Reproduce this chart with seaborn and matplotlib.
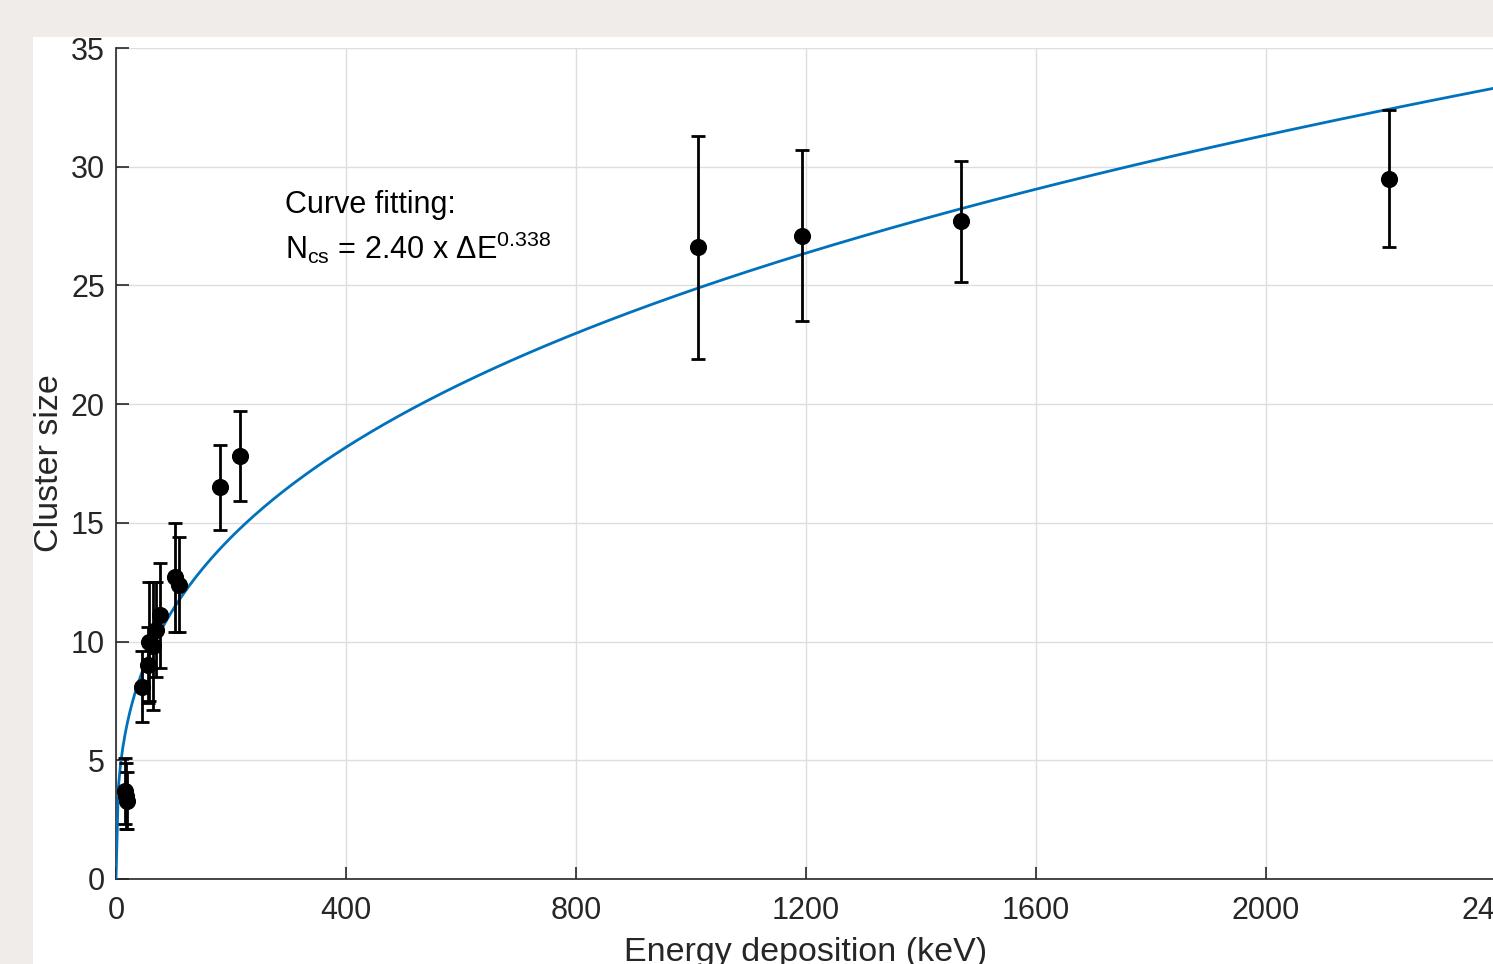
import numpy as np
import pandas as pd
import matplotlib
matplotlib.use("Agg")
import matplotlib.pyplot as plt
import seaborn as sns
from matplotlib.patches import Rectangle

# --- dados ---
energia = [15, 17, 19, 46, 55, 58, 65, 70, 76, 102, 110, 180, 215, 1012, 1193, 1470, 2214]
cluster = [3.7, 3.5, 3.3, 8.1, 9.0, 10.0, 9.8, 10.5, 11.1, 12.7, 12.4, 16.5, 17.8, 26.6, 27.1, 27.7, 29.5]
erro = [1.4, 1.4, 1.2, 1.5, 1.6, 2.5, 2.7, 2.0, 2.2, 2.3, 2.0, 1.8, 1.9, 4.7, 3.6, 2.55, 2.9]

# coeficientes do ajuste N = a * E^b
coef_a = 2.40
coef_b = 0.338

x_ticks = [0, 400, 800, 1200, 1600, 2000, 2400]
y_ticks = [0, 5, 10, 15, 20, 25, 30, 35]

sns.set_theme(style="whitegrid")
plt.rcParams['font.family'] = ['Liberation Sans', 'DejaVu Sans']
plt.rcParams['mathtext.default'] = 'regular'

fig = plt.figure(figsize=(14.93, 9.64), dpi=100, facecolor='#f0ecea')
# área branca do painel (atrás do eixo)
fig.patches.append(Rectangle((33 / 1493, 0), 1, (964 - 37) / 964,
                             transform=fig.transFigure, facecolor='white',
                             edgecolor='none', zorder=-10))
ax = fig.add_axes([116 / 1493, 85 / 964, 1380 / 1493, 831 / 964])
ax.set_facecolor('white')

# curva ajustada
e_fit = np.linspace(0, 2400, 600)
df_fit = pd.DataFrame({'E': e_fit, 'N': coef_a * e_fit ** coef_b})
sns.lineplot(data=df_fit, x='E', y='N', ax=ax, color='#0072BD', linewidth=2.0, zorder=3)

# pontos com barras de erro
df = pd.DataFrame({'E': energia, 'N': cluster, 'err': erro})
ax.errorbar(df['E'], df['N'], yerr=df['err'], fmt='none', ecolor='black',
            elinewidth=2.0, capsize=5, capthick=2.0, zorder=4)
sns.scatterplot(data=df, x='E', y='N', ax=ax, color='black', s=130,
                edgecolor='black', zorder=5)

ax.text(294, 28.05, 'Curve fitting:', fontsize=22, color='black')
ax.text(294, 26.1, r'N$_{cs}$ = 2.40 x $\Delta$E$^{0.338}$', fontsize=22, color='black')

ax.set_xlim(0, 2400)
ax.set_ylim(0, 35)
ax.set_xticks(x_ticks)
ax.set_yticks(y_ticks)
ax.set_xlabel('Energy deposition (keV)', fontsize=24.5, color='#262626', labelpad=8)
ax.set_ylabel('Cluster size', fontsize=24.5, color='#262626', labelpad=4)
ax.grid(True, color='#dedede', linewidth=1.0)
ax.tick_params(axis='both', direction='in', length=9, width=1.2, colors='#262626',
               labelsize=22, left=True, bottom=True)
ax.tick_params(axis='x', pad=12)
ax.tick_params(axis='y', pad=8)
for lado in ['top', 'right']:
    ax.spines[lado].set_visible(False)
for lado in ['left', 'bottom']:
    ax.spines[lado].set_color('#262626')
    ax.spines[lado].set_linewidth(1.2)

fig.savefig('out.png', dpi=100, facecolor=fig.get_facecolor())
